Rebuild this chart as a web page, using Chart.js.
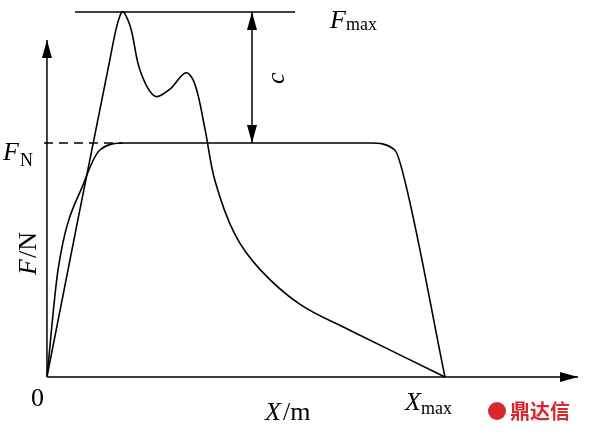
<!DOCTYPE html>
<html>
<head>
<meta charset="utf-8">
<script src="https://cdn.jsdelivr.net/npm/chart.js@4"></script>
<style>
html,body{margin:0;padding:0;background:#fff;}
#wrap{width:589px;height:435px;}
</style>
</head>
<body>
<div id="wrap"><canvas id="c"></canvas></div>
<script>
// peak curve (X in units where Xmax=10, F in units where FN=1)
let peakX = [0, 1.58, 1.88, 2.09, 2.34, 2.71, 3.09, 3.49, 3.72, 3.97, 4.22, 4.72, 5.35, 6.36, 7.61, 10];
let peakF = [0, 1.355, 1.56, 1.50, 1.31, 1.20, 1.23, 1.30, 1.25, 1.06, 0.84, 0.61, 0.46, 0.31, 0.20, 0];
// flat curve
let flatX = [0, 0.28, 0.95, 1.33, 1.96, 8.12, 8.74, 8.99, 10];
let flatF = [0, 0.46, 0.84, 0.97, 1.0, 1.0, 0.97, 0.84, 0];
let FN = 1.0, Fmax = 1.56, Xmax = 10;

function pts(xs, ys){ return xs.map((x,i)=>({x:x, y:ys[i]})); }

const deco = {
  id: 'deco',
  afterDraw(chart){
    const ctx = chart.ctx, xs = chart.scales.x, ys = chart.scales.y;
    const px = v => xs.getPixelForValue(v), py = v => ys.getPixelForValue(v);
    ctx.save();
    ctx.strokeStyle = '#000'; ctx.fillStyle = '#000'; ctx.lineWidth = 1.5;
    function arrow(x, y, dir){
      ctx.beginPath();
      if(dir==='up'){ctx.moveTo(x,y);ctx.lineTo(x-5,y+18);ctx.lineTo(x+5,y+18);}
      if(dir==='down'){ctx.moveTo(x,y);ctx.lineTo(x-5,y-18);ctx.lineTo(x+5,y-18);}
      if(dir==='right'){ctx.moveTo(x,y);ctx.lineTo(x-18,y-5);ctx.lineTo(x-18,y+5);}
      ctx.closePath(); ctx.fill();
    }
    const ox = px(0), oy = py(0);
    // axes
    ctx.beginPath(); ctx.moveTo(ox, oy); ctx.lineTo(ox, 40); ctx.stroke(); arrow(ox, 40, 'up');
    ctx.beginPath(); ctx.moveTo(ox, oy); ctx.lineTo(578, oy); ctx.stroke(); arrow(578, oy, 'right');
    // dashed FN line
    ctx.setLineDash([9,6]);
    ctx.beginPath(); ctx.moveTo(ox-3, py(FN)); ctx.lineTo(px(1.9), py(FN)); ctx.stroke();
    ctx.setLineDash([]);
    // Fmax line
    ctx.beginPath(); ctx.moveTo(75, py(Fmax)); ctx.lineTo(295, py(Fmax)); ctx.stroke();
    // c arrow
    ctx.beginPath(); ctx.moveTo(252, py(Fmax)); ctx.lineTo(252, py(FN)); ctx.stroke();
    arrow(252, py(Fmax), 'up'); arrow(252, py(FN), 'down');
    // text
    ctx.textBaseline = 'alphabetic';
    ctx.font = 'italic 26px "Liberation Serif"';
    ctx.fillText('F', 330, 28); ctx.fillText('F', 3, 160); ctx.fillText('X', 405, 410);
    ctx.save(); ctx.translate(284, 78); ctx.rotate(-Math.PI/2); ctx.fillText('c', -6, 0); ctx.restore();
    ctx.font = '18px "Liberation Serif"';
    ctx.fillText('max', 346, 30); ctx.fillText('N', 20, 166); ctx.fillText('max', 421, 414);
    ctx.font = '26px "Liberation Serif"';
    ctx.fillText('0', 31, 406);
    ctx.font = 'italic 26px "Liberation Serif"'; ctx.fillText('X', 265, 420);
    ctx.font = '26px "Liberation Serif"'; ctx.fillText('/m', 283, 420);
    ctx.save(); ctx.translate(36, 250); ctx.rotate(-Math.PI/2);
    ctx.font = 'italic 26px "Liberation Serif"'; ctx.fillText('F', -25, 0);
    ctx.font = '26px "Liberation Serif"'; ctx.fillText('/N', -8, 0);
    ctx.restore();
    // watermark
    ctx.fillStyle = '#d7282f';
    ctx.beginPath(); ctx.arc(497, 411, 9, 0, Math.PI*2); ctx.fill();
    ctx.font = 'bold 20px "Noto Sans CJK SC"'; ctx.fillText('鼎达信', 510, 419);
    ctx.restore();
  }
};

new Chart(document.getElementById('c'), {
  type: 'scatter',
  data: {
    datasets: [
      {data: pts(peakX, peakF), showLine: true, borderColor: '#000', borderWidth: 1.6, pointRadius: 0, tension: 0.35, fill: false},
      {data: pts(flatX, flatF), showLine: true, borderColor: '#000', borderWidth: 1.6, pointRadius: 0, cubicInterpolationMode: 'monotone', fill: false}
    ]
  },
  options: {
    responsive: true, maintainAspectRatio: false, animation: false,
    layout: {padding: 0},
    plugins: {legend: {display: false}, tooltip: {enabled: false}},
    scales: {
      x: {type: 'linear', display: false, min: -1.18, max: 13.62},
      y: {type: 'linear', display: false, min: -0.248, max: 1.611}
    }
  },
  plugins: [deco]
});
</script>
</body>
</html>
